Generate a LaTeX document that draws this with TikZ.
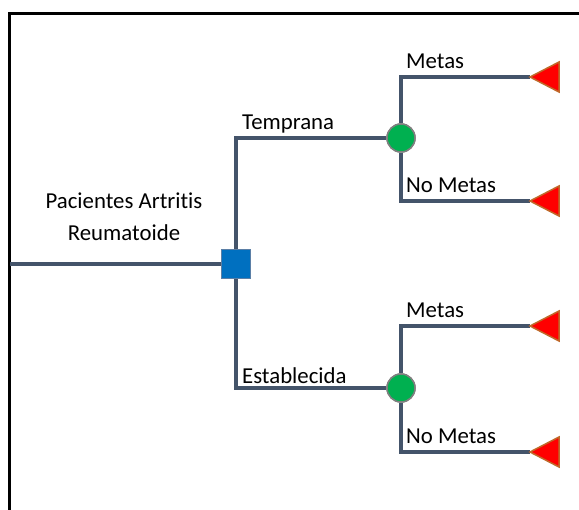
\documentclass[tikz,border=0pt]{standalone}
\usepackage{fontspec}
\setmainfont{Carlito}[Ligatures=NoCommon]
\definecolor{linec}{HTML}{44546A}
\definecolor{sqfill}{HTML}{0070C0}
\definecolor{sqdraw}{HTML}{5B7FA6}
\definecolor{cfill}{HTML}{00B050}
\definecolor{cdraw}{HTML}{7F7F7F}
\definecolor{tdraw}{HTML}{C0692A}
\tikzset{
  conn/.style={draw=linec, line width=4pt},
  decision/.style={rectangle, fill=sqfill, draw=sqdraw, line width=1.5pt, minimum size=29pt, inner sep=0pt},
  chance/.style={circle, fill=cfill, draw=cdraw, line width=1.5pt, minimum size=28pt, inner sep=0pt},
  tri/.style={fill=red, draw=tdraw, line width=1.5pt, line join=miter},
  lbl/.style={font=\fontsize{22.8}{26}\selectfont, inner sep=0pt, anchor=base west},
  frame/.style={draw=black, line width=2.2pt}
}
\begin{document}
\begin{tikzpicture}[x=1pt, y=-1pt]
\useasboundingbox (0,0) rectangle (579,510);
\fill[white] (0,0) rectangle (579,510);
\draw[frame] (9.5,511) -- (9.5,13.5) -- (580,13.5);
% nodes
\node[decision] (sq) at (236,264) {};
\coordinate (root) at (10,264);
\node[chance] (c1) at (401,138) {};
\node[chance] (c2) at (401,388) {};
\coordinate (t1) at (530,77);
\coordinate (t2) at (530,201);
\coordinate (t3) at (530,326);
\coordinate (t4) at (530,452);
% connectors
\draw[conn] (root) -- (sq.west);
\draw[conn] (sq.north) |- (c1.west);
\draw[conn] (sq.south) |- (c2.west);
\draw[conn] (c1.north) |- (t1);
\draw[conn] (c1.south) |- (t2);
\draw[conn] (c2.north) |- (t3);
\draw[conn] (c2.south) |- (t4);
% redraw nodes on top
\node[decision] at (sq) {};
\node[chance] at (c1) {};
\node[chance] at (c2) {};
% triangles
\foreach \t in {t1,t2,t3,t4}{
  \draw[tri] (\t) -- ++(29,-15) -- ++(0,30) -- cycle;
}
% labels
\node[lbl] (lt) at (242,130) {Temprana};
\node[lbl] (le) at (242,384) {Establecida};
\node[lbl] (lm1) at (406,69) {Metas};
\node[lbl] (ln1) at (406,193) {No Metas};
\node[lbl] (lm2) at (406,318) {Metas};
\node[lbl] (ln2) at (406,444) {No Metas};
\node[font=\fontsize{22.8}{32}\selectfont, align=center, inner sep=0pt, anchor=base] (lp) at (124,241) {Pacientes Artritis\\Reumatoide};
\end{tikzpicture}
\end{document}
